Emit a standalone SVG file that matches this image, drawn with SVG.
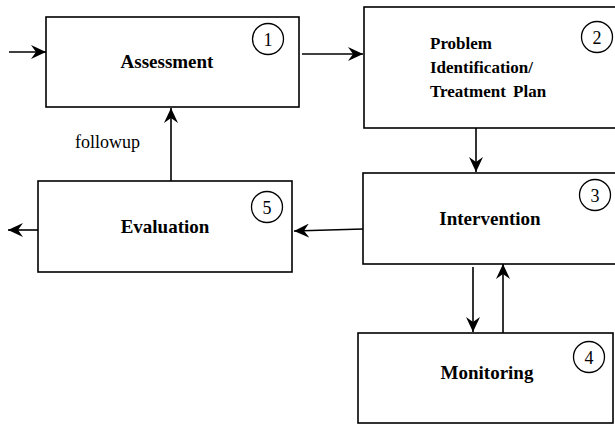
<svg xmlns="http://www.w3.org/2000/svg" width="615" height="426" viewBox="0 0 615 426">
<style>
.box{fill:#fff;stroke:#000;stroke-width:1.6}
.num{fill:none;stroke:#000;stroke-width:1.3}
.lbl{font-family:"Liberation Serif","Times New Roman",serif;font-weight:bold;font-size:19px;fill:#000}
.lbl2{font-family:"Liberation Serif","Times New Roman",serif;font-weight:bold;font-size:17px;fill:#000}
.n{font-family:"Liberation Serif","Times New Roman",serif;font-size:18px;fill:#000}
.plain{font-family:"Liberation Serif","Times New Roman",serif;font-size:18px;fill:#000}
.conn{stroke:#000;stroke-width:1.6;fill:none;marker-end:url(#ah)}
</style>
<defs>
<marker id="ah" markerUnits="userSpaceOnUse" markerWidth="16" markerHeight="14" refX="15" refY="7" orient="auto">
<path d="M0,0 L15,7 L0,14 L5,7 z" fill="#000"/>
</marker>
</defs>
<rect width="615" height="426" fill="#fff"/>
<g id="n1">
<rect class="box" x="46" y="17" width="253" height="90"/>
<circle class="num" cx="268" cy="39" r="15.5"/>
<text class="n" x="268" y="45.5" text-anchor="middle">1</text>
<text class="lbl" x="167" y="68" text-anchor="middle">Assessment</text>
</g>
<g id="n2">
<rect class="box" x="364" y="7" width="260" height="121"/>
<circle class="num" cx="597" cy="37" r="15.5"/>
<text class="n" x="597" y="43.5" text-anchor="middle">2</text>
<text class="lbl2" x="430" y="49">Problem</text>
<text class="lbl2" x="430" y="73">Identification/</text>
<text class="lbl2" x="430" y="97" word-spacing="3">Treatment Plan</text>
</g>
<g id="n3">
<rect class="box" x="363" y="173" width="260" height="91"/>
<circle class="num" cx="595" cy="195" r="15.5"/>
<text class="n" x="595" y="201.5" text-anchor="middle">3</text>
<text class="lbl" x="490" y="225" text-anchor="middle">Intervention</text>
</g>
<g id="n4">
<rect class="box" x="358" y="333" width="255" height="90"/>
<circle class="num" cx="589" cy="357" r="15.5"/>
<text class="n" x="589" y="363.5" text-anchor="middle">4</text>
<text class="lbl" x="487" y="379" text-anchor="middle">Monitoring</text>
</g>
<g id="n5">
<rect class="box" x="38" y="181" width="254" height="91"/>
<circle class="num" cx="267" cy="207" r="15.5"/>
<text class="n" x="267" y="213.5" text-anchor="middle">5</text>
<text class="lbl" x="165" y="233" text-anchor="middle">Evaluation</text>
</g>
<g id="connectors">
<line class="conn" x1="9" y1="52" x2="46" y2="52"/>
<line class="conn" x1="302" y1="54" x2="363" y2="54"/>
<line class="conn" x1="476" y1="128" x2="476" y2="172"/>
<line class="conn" x1="363" y1="229" x2="294" y2="231"/>
<line class="conn" x1="38" y1="230" x2="8" y2="230"/>
<line class="conn" x1="171" y1="181" x2="171" y2="108"/>
<line class="conn" x1="473" y1="267" x2="473" y2="332"/>
<line class="conn" x1="503" y1="333" x2="503" y2="264"/>
<text class="plain" x="75" y="148">followup</text>
</g>
</svg>
